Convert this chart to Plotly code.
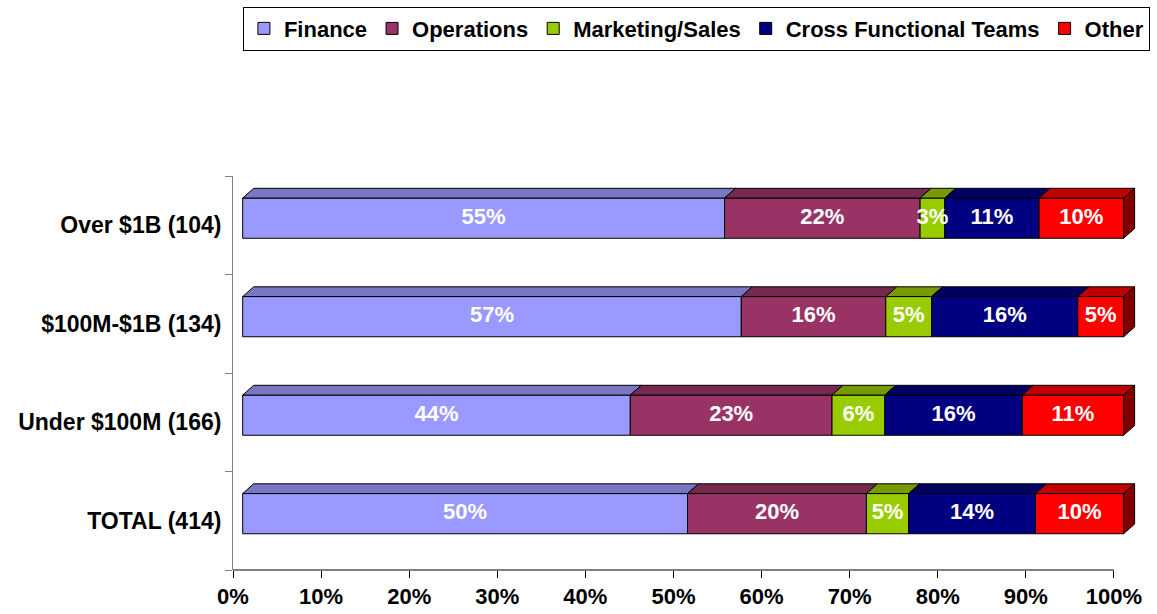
import plotly.graph_objects as go

# ---------------- data (bottom to top) ----------------
categories = ["TOTAL (414)", "Under $100M (166)", "$100M-$1B (134)", "Over $1B (104)"]
series = ["Finance", "Operations", "Marketing/Sales", "Cross Functional Teams", "Other"]

finance = [50.5, 44.0, 56.6, 54.7]
operations = [20.3, 22.9, 16.4, 22.2]
marketing = [4.8, 6.0, 5.2, 2.8]
cross_functional = [14.4, 15.6, 16.6, 10.7]
other = [10.0, 11.5, 5.2, 9.6]

finance_labels = ["50%", "44%", "57%", "55%"]
operations_labels = ["20%", "23%", "16%", "22%"]
marketing_labels = ["5%", "6%", "5%", "3%"]
cross_labels = ["14%", "16%", "16%", "11%"]
other_labels = ["10%", "11%", "5%", "10%"]

x_tick_vals = [0, 10, 20, 30, 40, 50, 60, 70, 80, 90, 100]
x_tick_labels = ["0%", "10%", "20%", "30%", "40%", "50%", "60%", "70%", "80%", "90%", "100%"]

# ---------------- styles ----------------
values = [finance, operations, marketing, cross_functional, other]
labels = [finance_labels, operations_labels, marketing_labels, cross_labels, other_labels]
front_colors = ["#9999FF", "#993366", "#99CC00", "#000080", "#FF0000"]
top_colors = ["#7777C4", "#762851", "#769A00", "#000062", "#C00000"]
side_color = "#800000"

FONT = "Liberation Sans, Arial, sans-serif"
XO = 1.1       # front face shift (axis units, %)
DX = 1.25      # depth shift in x (%)
DY = 0.099     # depth shift in y (category units)
BAR_LOW = -0.132
BAR_W = 0.408
X_MAX = 103.3  # extra room on the right so the 3D depth is not clipped

ypos = list(range(len(categories)))

fig = go.Figure()

cum = [0.0] * len(categories)
bases = []
for s_idx, (name, vals) in enumerate(zip(series, values)):
    base = [c + XO for c in cum]
    bases.append(base)
    fig.add_trace(go.Bar(
        y=ypos, x=vals, base=base, orientation="h", name=name,
        width=BAR_W, offset=BAR_LOW,
        marker=dict(color=front_colors[s_idx], line=dict(color="black", width=1)),
        hoverinfo="skip",
    ))
    cum = [c + v for c, v in zip(cum, vals)]

# top faces
for s_idx, vals in enumerate(values):
    xs, ys = [], []
    for k, y in enumerate(ypos):
        a = bases[s_idx][k]
        b = a + vals[k]
        y1 = y + BAR_LOW + BAR_W
        y2 = y1 + DY
        xs += [a, b, b + DX, a + DX, a, None]
        ys += [y1, y1, y2, y2, y1, None]
    fig.add_trace(go.Scatter(
        x=xs, y=ys, mode="lines", fill="toself", fillcolor=top_colors[s_idx],
        line=dict(color="black", width=1), showlegend=False, hoverinfo="skip",
    ))

# right side faces of the last segment
xs, ys = [], []
for k, y in enumerate(ypos):
    e = bases[-1][k] + values[-1][k]
    y0 = y + BAR_LOW
    y1 = y0 + BAR_W
    xs += [e, e + DX, e + DX, e, e, None]
    ys += [y1, y1 + DY, y0 + DY, y0, y1, None]
fig.add_trace(go.Scatter(
    x=xs, y=ys, mode="lines", fill="toself", fillcolor=side_color,
    line=dict(color="black", width=1), showlegend=False, hoverinfo="skip",
))

# value labels
for s_idx, vals in enumerate(values):
    fig.add_trace(go.Scatter(
        x=[b + v / 2 for b, v in zip(bases[s_idx], vals)],
        y=[y + BAR_LOW + BAR_W / 2 for y in ypos],
        mode="text", text=labels[s_idx],
        textfont=dict(family=FONT, size=22, color="white", weight="bold"),
        showlegend=False, hoverinfo="skip",
    ))

# x axis line only from 0% to 100%
fig.add_shape(type="line", xref="x", yref="paper",
              x0=x_tick_vals[0], x1=x_tick_vals[-1], y0=0, y1=0,
              line=dict(color="black", width=1), layer="above")

fig.update_layout(
    width=1157, height=614,
    margin=dict(l=233, r=7, t=165, b=44),
    plot_bgcolor="white", paper_bgcolor="white",
    barmode="overlay",
    showlegend=True,
    legend=dict(
        orientation="h", x=1.0076, xanchor="right", y=1.43, yanchor="top",
        font=dict(family=FONT, size=22, color="black", weight="bold"),
        bordercolor="black", borderwidth=1, bgcolor="white",
        traceorder="normal",
    ),
    xaxis=dict(
        range=[0, X_MAX], tickvals=x_tick_vals, ticktext=x_tick_labels,
        showgrid=False, zeroline=False, showline=False, automargin=False,
        ticks="outside", ticklen=7, tickcolor="black",
        tickfont=dict(family=FONT, size=22, color="black", weight="bold"),
    ),
    yaxis=dict(
        range=[-0.5, 3.5], tickvals=ypos, ticktext=categories,
        showgrid=False, zeroline=False, automargin=False,
        showline=True, linecolor="#808080", linewidth=1,
        ticks="", ticklabelstandoff=6,
        minor=dict(tickvals=[-0.5, 0.5, 1.5, 2.5, 3.5], ticks="outside",
                   ticklen=7, tickcolor="#808080", showgrid=False),
        tickfont=dict(family=FONT, size=23, color="black", weight="bold"),
    ),
)

fig.write_html("out.html", config={"displayModeBar": False},
               post_script="document.body.style.margin='0px';")
